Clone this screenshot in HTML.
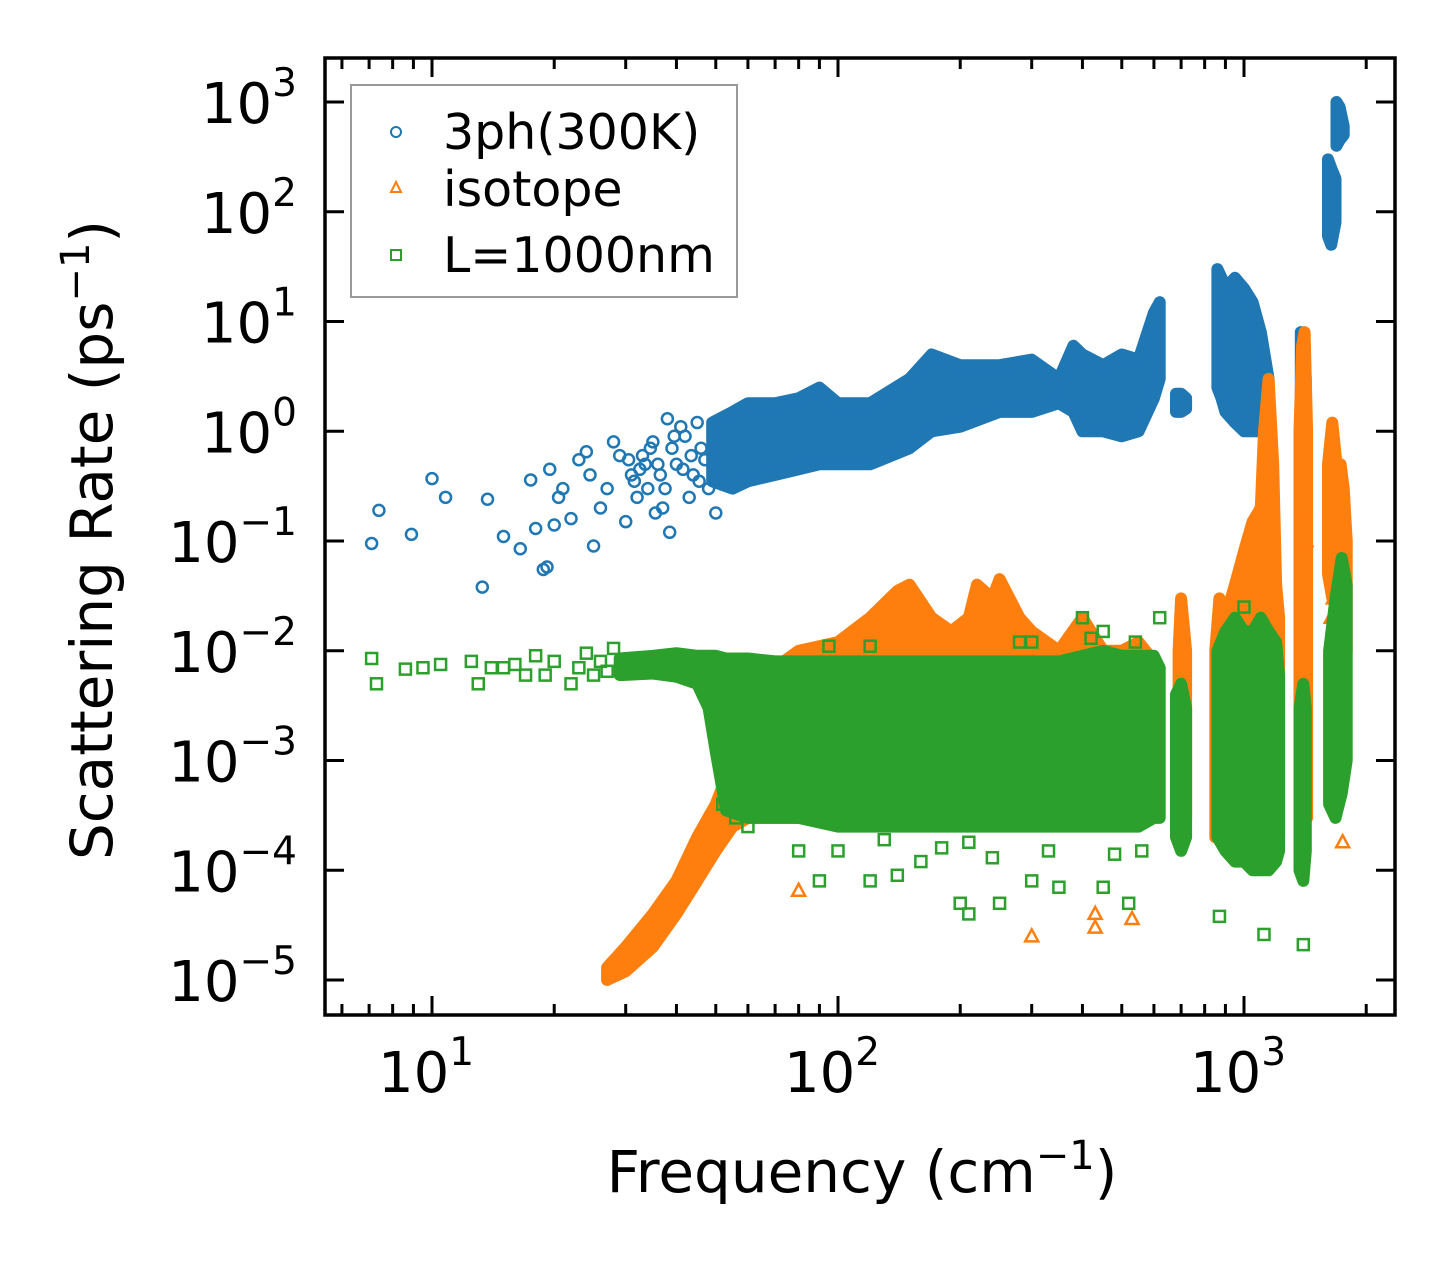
<!DOCTYPE html>
<html><head><meta charset="utf-8"><style>
html,body{margin:0;padding:0;background:#fff;}
svg{display:block;font-family:"DejaVu Sans","Liberation Sans",sans-serif;}
</style></head><body>
<svg id="chart" width="1455" height="1265" viewBox="0 0 1455 1265" xmlns="http://www.w3.org/2000/svg">
<rect width="1455" height="1265" fill="#fff"/>
<g id="marks"></g>
<g id="axes"></g>
<rect x="325" y="58" width="1070" height="957" fill="none" stroke="#000" stroke-width="3.5"/>
<g>
<rect x="351" y="85" width="386" height="212" fill="#fff" stroke="#999" stroke-width="2"/>
<circle cx="396" cy="132" r="5" fill="none" stroke="#1f77b4" stroke-width="2"/>
<text x="443" y="149" font-size="49">3ph(300K)</text>
<path d="M396,182 L401,192 L391,192 Z" fill="none" stroke="#ff7f0e" stroke-width="2"/>
<text x="443" y="206" font-size="49">isotope</text>
<rect x="391" y="250" width="10" height="10" fill="none" stroke="#2ca02c" stroke-width="2"/>
<text x="443" y="272" font-size="49">L=1000nm</text>
</g>
<text x="862" y="1192" font-size="58" text-anchor="middle">Frequency (cm<tspan font-size="40" dy="-23">−1</tspan><tspan dy="23">)</tspan></text>
<text transform="translate(112,540) rotate(-90)" font-size="58" text-anchor="middle">Scattering Rate (ps<tspan font-size="40" dy="-23">−1</tspan><tspan dy="23">)</tspan></text>
</svg>
<script>
// ---- data ----
const xTickExps = [1, 2, 3];
const yTickExps = [3, 2, 1, 0, -1, -2, -3, -4, -5];
// 3ph dense band segments: frequency, lower rate, upper rate
const blueBandSegFreq = [
  [49,55,60,70,80,90,100,120,150,170,200,250,300,350,380,400,450,500,550,600,620],
  [680,700,720],
  [860,880,900,950,1000,1050,1100,1150],
  [1380,1400,1420],
  [1610,1640,1680],
  [1690,1720,1760]
];
const blueBandSegLo = [
  [0.35,0.3,0.35,0.4,0.45,0.5,0.5,0.5,0.7,1.0,1.1,1.5,1.5,1.8,1.5,1.0,1.0,0.9,1.0,2.0,3.0],
  [1.5,1.5,1.6],
  [2.5,2.0,1.5,1.2,1.0,1.0,1.0,1.2],
  [2.0,2.0,2.5],
  [60,50,80],
  [400,450,500]
];
const blueBandSegHi = [
  [1.2,1.5,1.8,1.8,2.0,2.5,1.8,1.8,3.0,5.0,4.0,4.0,4.5,3.0,6.0,5.0,4.0,5.0,4.5,12,15],
  [2.2,2.2,2.0],
  [30,25,20,25,20,15,8,3],
  [8,7,3],
  [300,250,200],
  [1000,900,600]
];
const blueFreq = [7.1,7.4,8.9,10,10.8,13.3,13.7,15,16.5,17.5,18,18.8,19.2,19.5,20,20.5,21,22,23,24,24.5,25,26,27,28,29,30,31,32,33,34,35,36,37,38,38.5,40,42,44,46,48,50,41,43,39,45,31.5,33.5,35.5,37.5,39.5,41.5,43.5,45.5,47,36.5,34.5,32.5,30.5];
const blueRate = [0.095,0.19,0.115,0.37,0.25,0.038,0.24,0.11,0.085,0.36,0.13,0.055,0.058,0.45,0.14,0.25,0.3,0.16,0.55,0.65,0.4,0.09,0.2,0.3,0.8,0.6,0.15,0.4,0.25,0.6,0.3,0.8,0.5,0.2,1.3,0.12,0.5,0.9,0.4,0.7,0.3,0.18,1.1,0.25,0.7,1.2,0.35,0.5,0.18,0.3,0.9,0.45,0.6,0.35,0.55,0.4,0.7,0.45,0.55];
// isotope
const orangeBandSegFreq = [
  [27,30,35,40,45,50,55,60,70,80,100,120,140,150,170,190,210,220,240,250,280,300,350,400,450,500,550,600],
  [690,700,720],
  [850,870,900,950,1000,1050,1100,1120,1150,1180,1200,1220],
  [1370,1390,1410,1430],
  [1610,1650,1700],
  [1700,1730,1760,1790]
];
const orangeBandSegLo = [
  [1e-5,1.2e-5,2e-5,4e-5,8e-5,1.5e-4,2.5e-4,3e-4,3e-4,3e-4,3e-4,3e-4,3e-4,3e-4,3e-4,3e-4,3e-4,3e-4,3e-4,3e-4,3e-4,3e-4,3e-4,3e-4,3e-4,3e-4,3e-4,3e-4],
  [3e-4,3e-4,3e-4],
  [2e-4,2e-4,2e-4,2e-4,2e-4,2e-4,2e-4,2e-4,2e-4,2e-4,2e-4,2e-4],
  [3e-4,3e-4,3e-4,3e-4],
  [0.05,0.03,0.05],
  [0.005,0.01,0.01,0.01]
];
const orangeBandSegHi = [
  [1.3e-5,2e-5,4e-5,8e-5,2e-4,4e-4,1e-3,3e-3,7e-3,0.01,0.012,0.02,0.035,0.04,0.02,0.015,0.02,0.04,0.03,0.045,0.02,0.015,0.01,0.02,0.01,0.01,0.012,0.008],
  [0.01,0.03,0.01],
  [0.01,0.03,0.02,0.04,0.08,0.15,0.2,1.0,3.0,0.5,0.04,0.02],
  [1,6,8,1],
  [0.5,1.2,0.4],
  [0.3,0.5,0.3,0.1]
];
const orangeFreq = [80,300,430,430,530,1750,1700,1400,1420,1410,1640,1660];
const orangeRate = [6.5e-5,2.5e-5,3e-5,4e-5,3.6e-5,1.8e-4,1.2e-3,0.035,0.1,0.18,0.02,0.03];
// boundary L=1000nm
const greenBandSegFreq = [
  [29,35,40,45,48,50,53,60,70,80,100,120,150,200,250,300,350,400,450,500,550,600,620],
  [680,700,720],
  [860,900,950,1000,1050,1100,1150,1200,1220],
  [1370,1400,1420],
  [1620,1680,1740,1790]
];
const greenBandSegLo = [
  [0.006,0.0062,0.0058,0.005,0.003,0.0012,3.5e-4,3e-4,3e-4,3e-4,2.5e-4,2.5e-4,2.5e-4,2.5e-4,2.5e-4,2.5e-4,2.5e-4,2.5e-4,2.5e-4,2.5e-4,2.5e-4,3e-4,3e-4],
  [2e-4,1.5e-4,2e-4],
  [2e-4,1.5e-4,1.2e-4,1.2e-4,1e-4,1e-4,1e-4,1.2e-4,1.5e-4],
  [1e-4,8e-5,1.5e-4],
  [4e-4,3e-4,5e-4,1e-3]
];
const greenBandSegHi = [
  [0.0085,0.009,0.0095,0.009,0.009,0.009,0.0085,0.0085,0.008,0.008,0.008,0.008,0.008,0.008,0.008,0.008,0.008,0.009,0.01,0.009,0.009,0.009,0.007],
  [0.004,0.005,0.003],
  [0.01,0.015,0.02,0.015,0.015,0.02,0.015,0.012,0.006],
  [0.003,0.005,0.003],
  [0.01,0.03,0.07,0.04]
];
const greenFreq = [7.1,7.3,8.6,9.5,10.5,12.5,13,14,15,16,17,18,19,20,22,23,24,25,26,27,28,29.5,80,90,100,120,140,160,200,210,250,300,350,450,520,870,1120,1400,56,60,52,300,450,400,620,1000,120,180,240,330,480,560,95,130,210,280,420,540];
const greenRate = [0.0085,0.005,0.0068,0.007,0.0075,0.008,0.005,0.007,0.007,0.0075,0.006,0.009,0.006,0.008,0.005,0.007,0.0095,0.006,0.008,0.0065,0.0105,0.0075,1.5e-4,8e-5,1.5e-4,8e-5,9e-5,1.2e-4,5e-5,4e-5,5e-5,8e-5,7e-5,7e-5,5e-5,3.8e-5,2.6e-5,2.1e-5,3e-4,2.5e-4,4e-4,0.012,0.015,0.02,0.02,0.025,0.011,1.6e-4,1.3e-4,1.5e-4,1.4e-4,1.5e-4,0.011,1.9e-4,1.8e-4,0.012,0.013,0.012];

// ---- axes ----
const X0=432, XD=406, Y3=102, YD=109.75;
function xs(f){return X0+(Math.log10(f)-1)*XD;}
function ys(v){return Y3+(3-Math.log10(v))*YD;}
const NS='http://www.w3.org/2000/svg';
const marks=document.getElementById('marks');
const axes=document.getElementById('axes');
function mk(tag,attrs,parent){const e=document.createElementNS(NS,tag);for(const k in attrs)e.setAttribute(k,attrs[k]);parent.appendChild(e);return e;}

function drawBands(freqs,los,his,color,name){
  for(let s=0;s<freqs.length;s++){
    const F=freqs[s],L=los[s],H=his[s];
    let d='';
    for(let i=0;i<F.length;i++) d+=(i?'L':'M')+xs(F[i]).toFixed(1)+','+ys(H[i]).toFixed(1);
    for(let i=F.length-1;i>=0;i--) d+='L'+xs(F[i]).toFixed(1)+','+ys(L[i]).toFixed(1);
    d+='Z';
    const p=mk('path',{d:d,fill:color,stroke:color,'stroke-width':12,'stroke-linejoin':'round'},marks);
    
    
  }
}
function drawPoints(F,R,color,shape,name){
  for(let i=0;i<F.length;i++){
    const x=xs(F[i]),y=ys(R[i]);let e;
    if(shape==='c') e=mk('circle',{cx:x,cy:y,r:5.5,fill:'none',stroke:color,'stroke-width':2.5},marks);
    else if(shape==='t') e=mk('path',{d:`M${x},${y-7}L${x+6.5},${y+5}L${x-6.5},${y+5}Z`,fill:'none',stroke:color,'stroke-width':2.5},marks);
    else e=mk('rect',{x:x-5.5,y:y-5.5,width:11,height:11,fill:'none',stroke:color,'stroke-width':2.5},marks);
    
    
  }
}
drawBands(blueBandSegFreq,blueBandSegLo,blueBandSegHi,'#1f77b4','3ph');
drawPoints(blueFreq,blueRate,'#1f77b4','c','3ph');
drawBands(orangeBandSegFreq,orangeBandSegLo,orangeBandSegHi,'#ff7f0e','isotope');
drawPoints(orangeFreq,orangeRate,'#ff7f0e','t','isotope');
drawBands(greenBandSegFreq,greenBandSegLo,greenBandSegHi,'#2ca02c','boundary');
drawPoints(greenFreq,greenRate,'#2ca02c','s','boundary');

const L=325,R=1395,T=58,B=1015;
function line(x1,y1,x2,y2,name){const e=mk('line',{x1:x1,y1:y1,x2:x2,y2:y2,stroke:'#000','stroke-width':3},axes);
  
  }
for(let e=0;e<=3;e++){
  for(let m=1;m<=9;m++){
    const f=m*Math.pow(10,e);const x=xs(f);
    if(x<L+2||x>R-2)continue;
    const len=(m===1)?19:11;
    line(x,B,x,B-len,'x-tick');line(x,T,x,T+len,'x-tick-top');
  }
}
xTickExps.forEach(ex=>{
  const t=mk('text',{x:xs(Math.pow(10,ex))-6,y:1092,'font-size':56,'text-anchor':'middle'},axes);
  
  
  t.innerHTML='10<tspan font-size="39" dy="-27">'+ex+'</tspan>';
});
yTickExps.forEach(ex=>{
  const y=ys(Math.pow(10,ex));
  line(L,y,L+19,y,'y-tick');line(R,y,R-19,y,'y-tick-right');
  const t=mk('text',{x:297,y:y+21,'font-size':56,'text-anchor':'end'},axes);
  
  
  t.innerHTML='10<tspan font-size="39" dy="-27">'+(ex<0?'−'+(-ex):ex)+'</tspan>';
});
</script>
</body></html>
